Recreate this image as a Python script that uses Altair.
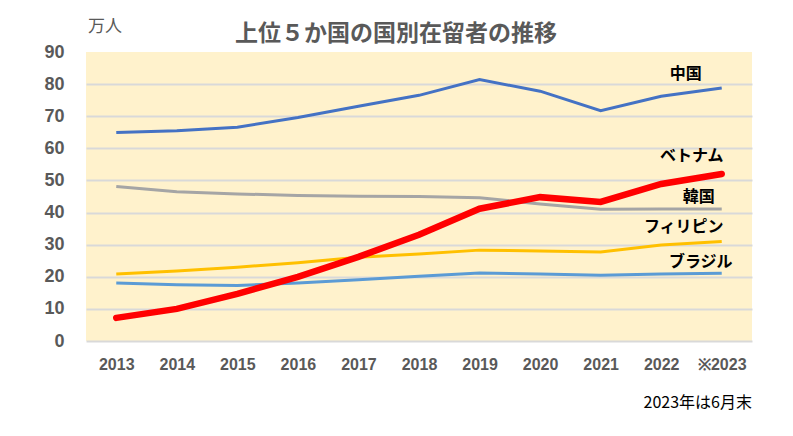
import altair as alt
import pandas as pd

years = ["2013", "2014", "2015", "2016", "2017", "2018", "2019", "2020", "2021", "2022", "2023"]
china = [64.9, 65.5, 66.6, 69.6, 73.1, 76.5, 81.4, 77.8, 71.7, 76.2, 78.8]
vietnam = [7.2, 10.0, 14.7, 20.0, 26.2, 33.1, 41.2, 44.8, 43.3, 48.9, 52.0]
korea = [48.1, 46.5, 45.8, 45.3, 45.1, 45.0, 44.6, 42.7, 41.0, 41.1, 41.1]
philippines = [20.9, 21.8, 23.0, 24.4, 26.1, 27.1, 28.3, 28.0, 27.7, 29.9, 31.0]
brazil = [18.1, 17.5, 17.3, 18.1, 19.1, 20.2, 21.2, 20.9, 20.5, 20.9, 21.1]

names = ["中国", "ベトナム", "韓国", "フィリピン", "ブラジル"]
series = [china, vietnam, korea, philippines, brazil]
colors = ["#4472C4", "#FF0000", "#A5A5A5", "#FFC000", "#5B9BD5"]

rows = []
for n, s in zip(names, series):
    for y, v in zip(years, s):
        rows.append({"year": y, "value": v, "country": n})
df = pd.DataFrame(rows)

FONT_JP = "Noto Sans CJK JP"
FONT_NUM = "Liberation Sans"

x_enc = alt.X("year:O", scale=alt.Scale(domain=years),
              axis=alt.Axis(title=None, labelAngle=0, ticks=False, domain=False,
                            labelFont=FONT_NUM, labelFontWeight="bold", labelFontSize=16,
                            labelColor="#595959", labelPadding=15, grid=False,
                            labelExpr="datum.value == '2023' ? '※2023' : datum.label"))
y_enc = alt.Y("value:Q", scale=alt.Scale(domain=[0, 90], nice=False),
              axis=alt.Axis(title=None, values=list(range(0, 91, 10)), ticks=False, domain=False,
                            labelFont=FONT_NUM, labelFontWeight="bold", labelFontSize=18,
                            labelColor="#595959", labelPadding=22, labelOverlap=False,
                            gridColor=alt.condition("datum.value == 90", alt.value("transparent"), alt.value("#D9D9D9")),
                            gridWidth=2))

color_scale = alt.Scale(domain=names, range=colors)

others = alt.Chart(df).transform_filter(alt.datum.country != "ベトナム").mark_line(strokeWidth=3).encode(
    x=x_enc, y=y_enc,
    color=alt.Color("country:N", scale=color_scale, legend=None),
)
viet = alt.Chart(df).transform_filter(alt.datum.country == "ベトナム").mark_line(strokeWidth=6.5, strokeCap="round").encode(
    x=x_enc, y=y_enc,
    color=alt.Color("country:N", scale=color_scale, legend=None),
)

label_dx = [-36, -30, -23, -38, -21]
label_dy = [-14, -18, -12, -14.5, -11]
label_layers = []
for n, s, dx, dy in zip(names, series, label_dx, label_dy):
    ldf = pd.DataFrame({"year": [years[-1]], "value": [s[-1]], "label": [n]})
    label_layers.append(
        alt.Chart(ldf).mark_text(font=FONT_JP, fontWeight="bold", fontSize=16, color="#000000",
                                 dx=dx, dy=dy, align="center", baseline="middle").encode(
            x=x_enc, y=y_enc,
            text="label:N",
        )
    )

annot = pd.DataFrame({"t": [0]})
title_txt = alt.Chart(annot).mark_text(font=FONT_JP, fontWeight="bold", fontSize=23, color="#595959",
                                       align="center", baseline="middle").encode(
    x=alt.value(310), y=alt.value(-18), text=alt.value("上位５か国の国別在留者の推移"))
unit_txt = alt.Chart(annot).mark_text(font=FONT_JP, fontSize=17, color="#595959",
                                      align="center", baseline="middle").encode(
    x=alt.value(19), y=alt.value(-25), text=alt.value("万人"))
note_txt = alt.Chart(annot).mark_text(font=FONT_JP, fontSize=16, color="#000000",
                                      align="right", baseline="middle").encode(
    x=alt.value(666), y=alt.value(351), text=alt.value("2023年は6月末"))

chart = alt.layer(others, viet, *label_layers, title_txt, unit_txt, note_txt).properties(
    width=666, height=289,
    autosize=alt.AutoSizeParams(type="none"),
    padding={"left": 78, "top": 44, "right": 30, "bottom": 80},
    background="white",
).configure_view(fill="#FFF2CC", stroke=None)

chart.save("out.html", embed_options={"renderer": "svg", "actions": False})
